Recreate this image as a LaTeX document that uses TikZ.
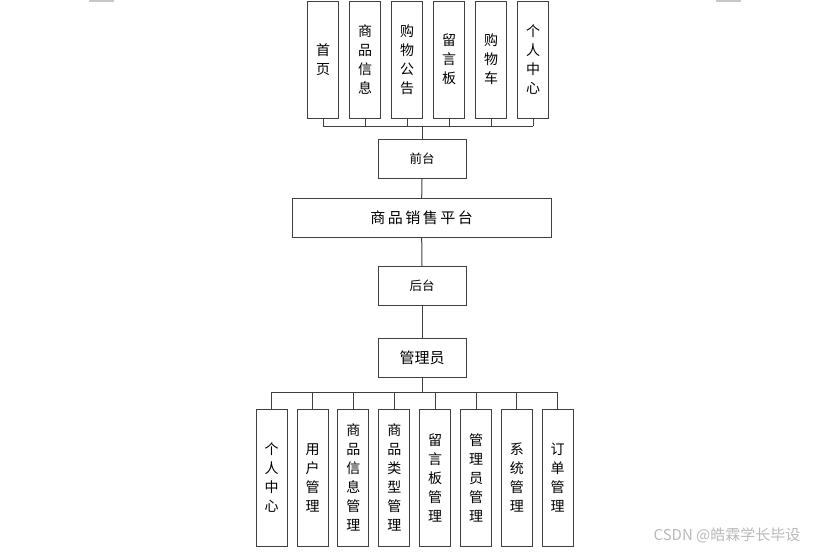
\documentclass[tikz,border=0pt]{standalone}
\usepackage{fontspec}
\newfontfamily\cjk{Noto Sans CJK SC}
\usepackage{tikz}
\usetikzlibrary{positioning}
\definecolor{lineGray}{HTML}{404040}
\definecolor{markGray}{HTML}{C8C8C8}
\tikzset{
  colbox/.style={draw=lineGray, line width=1pt, minimum width=31pt, inner sep=0pt,
    align=center, font=\cjk\fontsize{14}{19}\selectfont},
  midbox/.style={draw=lineGray, line width=1pt, minimum width=88pt, minimum height=39pt,
    inner sep=0pt, font=\cjk\fontsize{12.5}{15}\selectfont},
  link/.style={draw=lineGray, line width=1pt}
}

\begin{document}
\begin{tikzpicture}[x=1pt, y=-1pt]
    \useasboundingbox (0,0) rectangle (814,552);
    % small marks on the top edge
    \fill[markGray] (89,0) rectangle (114,1.5);
    \fill[markGray] (716,0) rectangle (741,1.5);

    % front side
    \foreach \i/\txt in {1/{首\\页}, 2/{商\\品\\信\\息}, 3/{购\\物\\公\\告},
                         4/{留\\言\\板}, 5/{购\\物\\车}, 6/{个\\人\\中\\心}} {
      \node[colbox, minimum height=117pt] (t\i) at (323+42*\i-42, 59.5) {\txt};
    }
    \coordinate (busT) at (422,126);
    \node[midbox] (front) at (422,159) {前台};
    \node[midbox, minimum width=259pt, font=\cjk\fontsize{15}{18}\selectfont] (platform) at (421.7,217.8) {商\,品\,销\,售\,平\,台};
    \node[midbox] (back) at (422,286.2) {后台};
    \node[midbox, font=\cjk\fontsize{15}{18}\selectfont] (admin) at (422,357.7) {管理员};

    % back side
    \foreach \i/\txt in {1/{个\\人\\中\\心}, 2/{用\\户\\管\\理}, 3/{商\\品\\信\\息\\管\\理},
                         4/{商\\品\\类\\型\\管\\理}, 5/{留\\言\\板\\管\\理}, 6/{管\\理\\员\\管\\理},
                         7/{系\\统\\管\\理}, 8/{订\\单\\管\\理}} {
      \node[colbox, minimum height=137pt] (b\i) at (271.7+40.86*\i-40.86, 477.6) {\txt};
    }
    \coordinate (busB) at (422,392);

    % connectors
    \foreach \i in {1,...,6} \draw[link] (t\i.south) -- (t\i.south |- busT);
    \draw[link] (t1.south |- busT) -- (t6.south |- busT);
    \draw[link] (busT) -- (front.north);
    \draw[link] (front.south) -- (platform.north);
    \draw[link] (platform.south) -- (back.north);
    \draw[link] (back.south) -- (admin.north);
    \draw[link] (admin.south) -- (busB);
    \draw[link] (b1.north |- busB) -- (b8.north |- busB);
    \foreach \i in {1,...,8} \draw[link] (b\i.north |- busB) -- (b\i.north);

    \node[text=markGray!80!gray, font=\cjk\fontsize{15}{18}\selectfont] (mark) at (727,535) {CSDN @皓霖学长毕设};
\end{tikzpicture}
\end{document}
